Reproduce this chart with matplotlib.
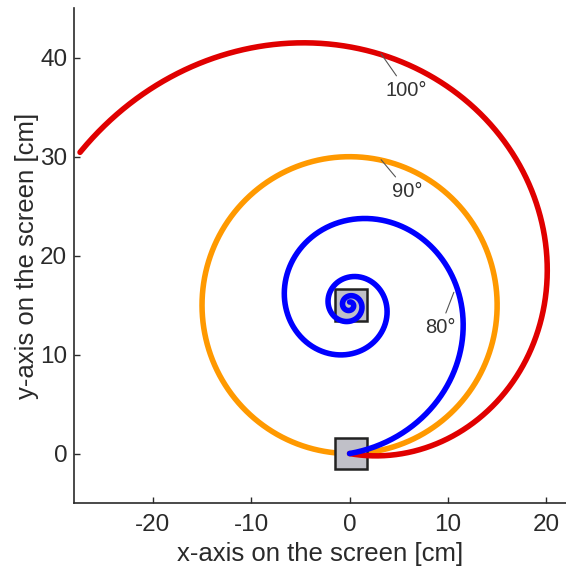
import numpy as np
import matplotlib.pyplot as plt
from matplotlib.patches import Rectangle

plt.rcParams['font.family'] = ['Liberation Sans', 'DejaVu Sans']
plt.rcParams['axes.unicode_minus'] = False

# constant-bearing paths around a target at (0, 15), starting at (0, 0) heading +x
target = (0.0, 15.0)
start = (0.0, 0.0)
angles = [90, 100, 80]                 # angle between heading and target direction [deg]
sweeps = [360, 240.6, 1260]            # how far each path turns round the target [deg]
colors = ['#ff9900', '#e00000', '#0000ff']
label_xy = [(5.9, 26.5), (5.8, 36.7), (9.2, 12.7)]
label_tip = [(3.2, 29.7), (3.2, 40.4), (10.6, 16.3)]
box_size = 3.2

fig = plt.figure(figsize=(5.66, 5.70), dpi=100)
ax = fig.add_axes([0.131, 0.1175, 0.869, 0.868])

r0 = np.hypot(start[0] - target[0], start[1] - target[1])
for ang, sweep, col in zip(angles, sweeps, colors):
    th = np.radians(np.linspace(0, sweep, 2000))
    r = r0 * np.exp(-th / np.tan(np.radians(ang)))
    x = target[0] + r * np.sin(th)
    y = target[1] - r * np.cos(th)
    z = 1 if ang == 90 else 3
    ax.plot(x, y, color=col, lw=4, solid_capstyle='round', zorder=z)

# screen targets
for cx, cy in [start, target]:
    ax.add_patch(Rectangle((cx + 0.15 - box_size / 2, cy - box_size / 2), box_size, box_size,
                           facecolor='#c0c0c8', edgecolor='#222222', lw=1.8, zorder=2))

for ang, (tx, ty), (px, py) in zip(angles, label_xy, label_tip):
    ax.annotate('%d°' % ang, xy=(px, py), xytext=(tx, ty), ha='center', va='center',
                fontsize=14.5, color='#333333',
                arrowprops=dict(arrowstyle='-', color='#555555', lw=0.8,
                                shrinkA=2, shrinkB=0), zorder=4)

ax.set_xlim(-28, 22)
ax.set_ylim(-5, 45)
ax.set_xticks([-20, -10, 0, 10, 20])
ax.set_yticks([0, 10, 20, 30, 40])
ax.spines['top'].set_visible(False)
ax.spines['right'].set_visible(False)
for s in ['left', 'bottom']:
    ax.spines[s].set_color('#2a2a2a')
    ax.spines[s].set_linewidth(1.2)
ax.tick_params(direction='in', length=4, width=1, color='#2a2a2a',
               labelsize=17.5, labelcolor='#2a2a2a', pad=5)
ax.tick_params(axis='x', pad=8)
ax.set_xlabel('x-axis on the screen [cm]', fontsize=18.5, color='#2a2a2a', labelpad=4)
ax.set_ylabel('y-axis on the screen [cm]', fontsize=18.5, color='#2a2a2a', labelpad=1)

fig.savefig('out.png', dpi=100)
